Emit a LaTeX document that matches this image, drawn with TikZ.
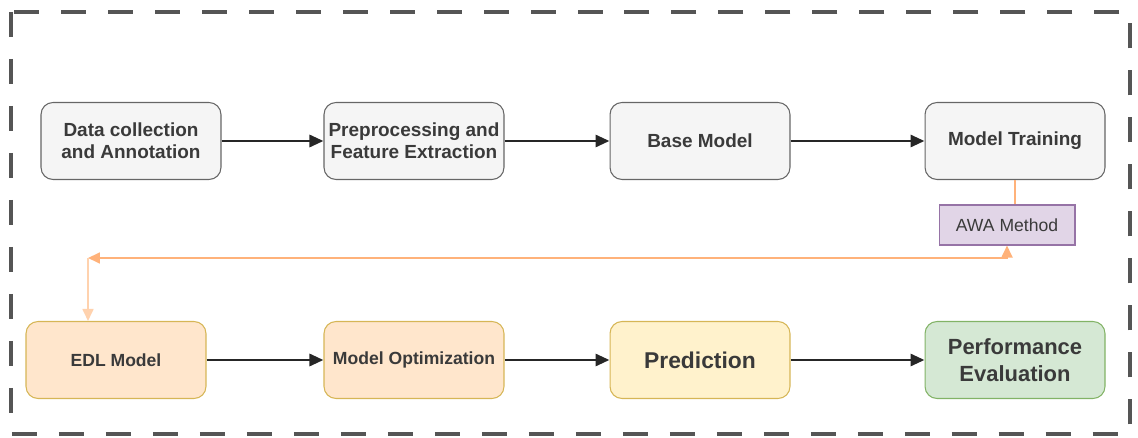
\documentclass[tikz,border=0pt]{standalone}
\usepackage{fontspec}
\setmainfont{Liberation Sans}
\usetikzlibrary{positioning,arrows.meta}

\definecolor{grayfill}{HTML}{F5F5F5}
\definecolor{grayline}{HTML}{666666}
\definecolor{txtgray}{HTML}{3A3A3A}
\definecolor{purplefill}{HTML}{E1D5E7}
\definecolor{purpleline}{HTML}{9673A6}
\definecolor{orangefill}{HTML}{FFE6CC}
\definecolor{yellowfill}{HTML}{FFF2CC}
\definecolor{goldline}{HTML}{D6B656}
\definecolor{greenfill}{HTML}{D5E8D4}
\definecolor{greenline}{HTML}{82B366}
\definecolor{awaorange}{HTML}{FFB27A}
\definecolor{paleorange}{HTML}{FFD2AE}
\definecolor{framegray}{HTML}{555555}

\begin{document}
\begin{tikzpicture}[x=0.02cm, y=-0.02cm,
  main/.style = {draw=grayline, fill=grayfill, rounded corners=2.4mm, line width=0.6pt,
    minimum width=3.6cm, minimum height=1.54cm, inner sep=1pt, align=center, text=txtgray,
    font=\bfseries\fontsize{10.8}{12.5}\selectfont},
  flow/.style = {-{Triangle[length=2.8mm,width=2.4mm]}, line width=1.7pt, draw=black!85},
  loop/.style = {line width=1pt, draw=awaorange}]
\useasboundingbox (0,0) rectangle (1138,438);
\draw[framegray, line width=2.2pt, dash pattern=on 0.5cm off 0.44cm] (11,12) rectangle (1130,434);

% first row
\node[main] (data) at (131,141) {Data collection\\and Annotation};
\node[main] (prep) at (414,141) {Preprocessing and\\Feature Extraction};
\node[main] (base) at (700,141) {Base Model};
\node[main] (train) at (1015,141) {Model Training};
\node[draw=purpleline, fill=purplefill, minimum width=2.72cm, minimum height=0.8cm, line width=0.6pt,
  text=txtgray, font=\fontsize{10}{12}\selectfont] (awa) at (1007,225) {AWA Method};

% second row
\node[main, fill=orangefill, draw=goldline, font=\bfseries\fontsize{10}{12}\selectfont] (edl) at (116,360) {EDL Model};
\node[main, fill=orangefill, draw=goldline, font=\bfseries\fontsize{10}{12}\selectfont] (optim) at (414,360) {Model Optimization};
\node[main, fill=yellowfill, draw=goldline, font=\bfseries\fontsize{13}{15}\selectfont] (pred) at (700,360) {Prediction};
\node[main, fill=greenfill, draw=greenline, font=\bfseries\fontsize{12.5}{15}\selectfont] (perf) at (1015,360) {Performance\\Evaluation};

\coordinate (turn) at (88,258);

\draw[flow] (data) -- (prep);
\draw[flow] (prep) -- (base);
\draw[flow] (base) -- (train);
\draw[flow] (edl) -- (optim);
\draw[flow] (optim) -- (pred);
\draw[flow] (pred) -- (perf);

\draw[loop] (train.south) -- (train.south |- awa.north);
\draw[loop, {Triangle[length=2.4mm,width=2.2mm]}-{Triangle[length=2.4mm,width=2.2mm]}] (awa.south) |- (turn);
\draw[loop, draw=paleorange, -{Triangle[length=2.4mm,width=2.2mm]}] (turn) -- (edl.north -| turn);
\end{tikzpicture}
\end{document}
